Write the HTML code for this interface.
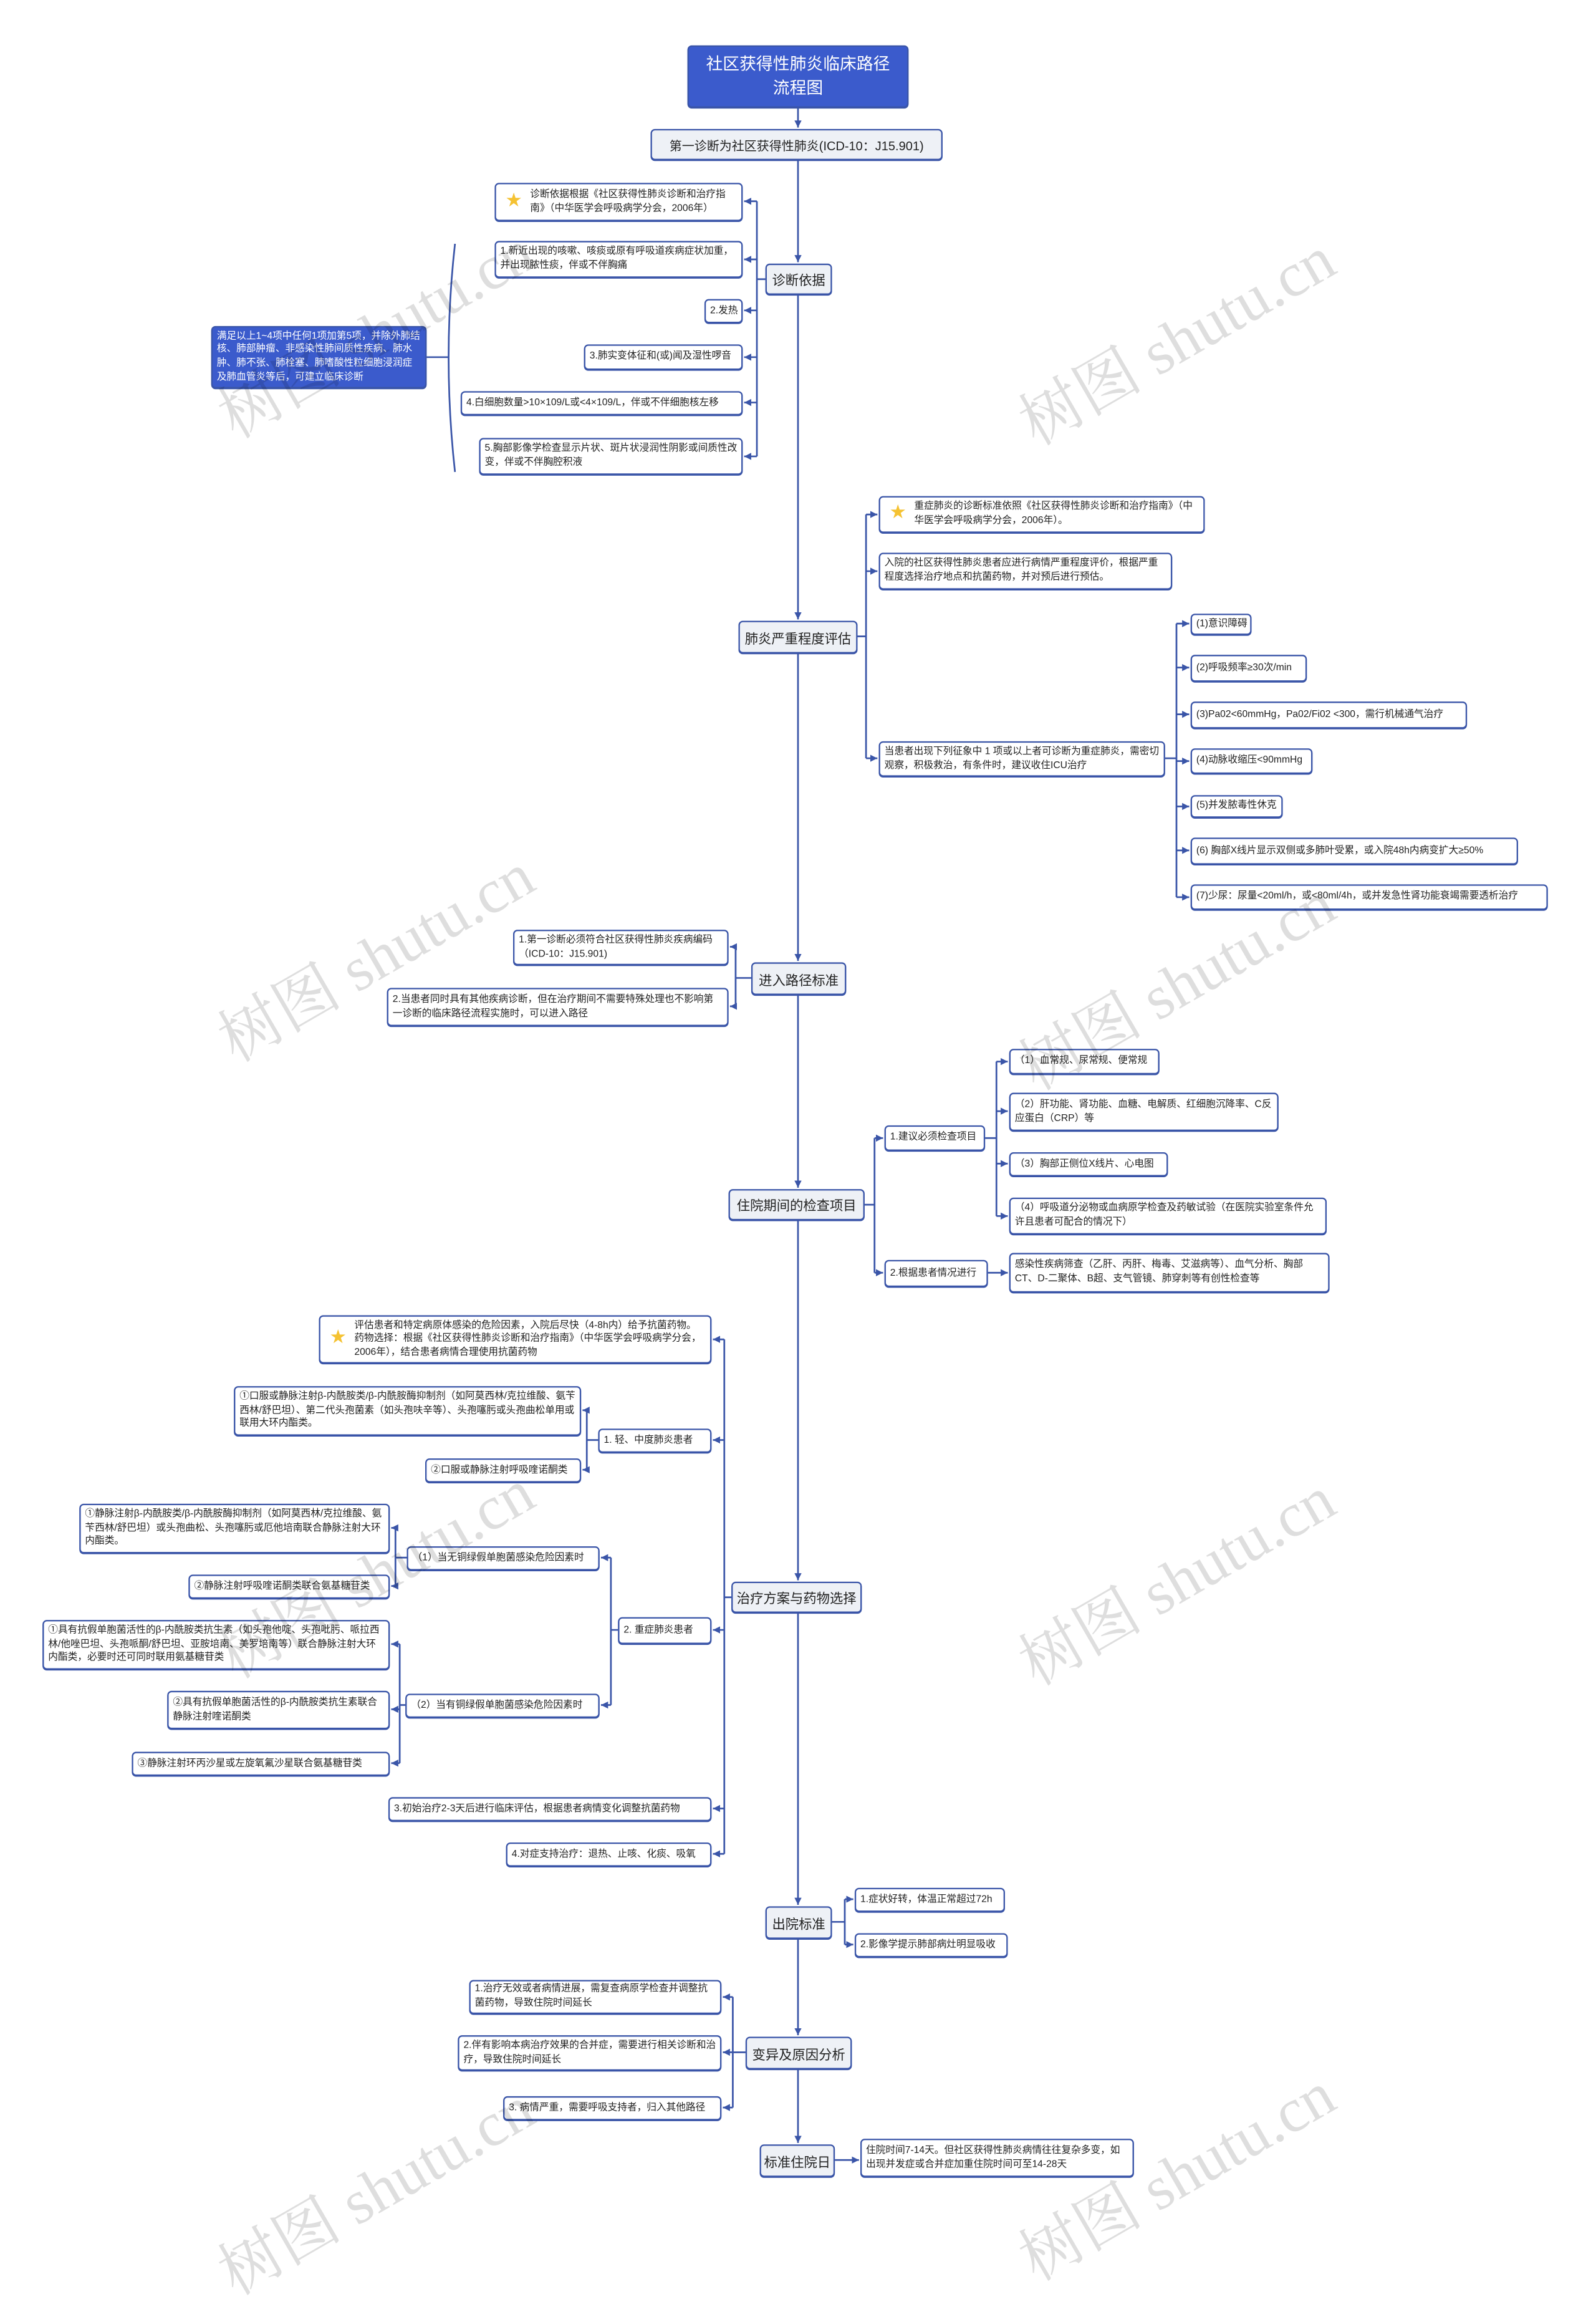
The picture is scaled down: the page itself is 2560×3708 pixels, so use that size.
<!DOCTYPE html>
<html><head><meta charset="utf-8">
<style>
html,body{margin:0;padding:0;background:#fff;}
body{width:2560px;height:3571px;overflow:hidden;position:relative;}
#s{position:absolute;left:0;top:0;width:1126px;height:1571px;transform:scale(2.27353,2.2731);transform-origin:0 0;font-family:"Liberation Sans","Noto Sans CJK SC",sans-serif;color:#222;}
.b{position:absolute;box-sizing:border-box;border:1px solid #3a55a8;border-radius:3px;background:#fff;display:flex;align-items:center;padding:0 3px;font-size:6.9px;line-height:1.4;box-shadow:0 0.6px 0 #3a55a8;overflow:hidden;}
.n{white-space:nowrap;}
.m{position:absolute;box-sizing:border-box;border:1px solid #3a55a8;border-radius:3px;background:#eef1f6;display:flex;align-items:center;justify-content:center;font-size:9.4px;white-space:nowrap;box-shadow:0 0.6px 0 #3a55a8;}
.st{color:#f5c232;font-size:11px;margin:0 6px 0 4px;flex:none;}
.wm{position:absolute;font-family:"Liberation Serif","Noto Serif CJK SC",serif;font-size:44px;color:rgba(0,0,0,0.13);transform:rotate(-30deg);white-space:nowrap;transform-origin:center;}
svg{position:absolute;left:0;top:0;}
</style></head><body>
<div id="s">
<svg width="1126" height="1571" viewBox="0 0 1126 1571">
<defs><marker id="a" markerWidth="6" markerHeight="6" refX="5" refY="3" orient="auto" markerUnits="userSpaceOnUse"><path d="M0,0.5 L5,3 L0,5.5 z" fill="#3a55a8"/></marker></defs>
<g stroke="#3a55a8" stroke-width="1.2" fill="none">
<path d="M563 76 V90" marker-end="url(#a)"/>
<path d="M563 113 V185" marker-end="url(#a)"/>
<path d="M563 208 V437" marker-end="url(#a)"/>
<path d="M563 461 V678" marker-end="url(#a)"/>
<path d="M563 702 V838" marker-end="url(#a)"/>
<path d="M563 861 V1115" marker-end="url(#a)"/>
<path d="M563 1138 V1344" marker-end="url(#a)"/>
<path d="M563 1368 V1436" marker-end="url(#a)"/>
<path d="M563 1460 V1512" marker-end="url(#a)"/>
<path d="M540 197 H534 M534 142 V322"/>
<path d="M534 142 H525" marker-end="url(#a)"/><path d="M534 183 H525" marker-end="url(#a)"/><path d="M534 219 H525" marker-end="url(#a)"/><path d="M534 252 H525" marker-end="url(#a)"/><path d="M534 284 H525" marker-end="url(#a)"/><path d="M534 322 H525" marker-end="url(#a)"/>
<path d="M301 252 H316 M321 172 Q312 252 321 333"/>
<path d="M605 449 H611 M611 363 V535"/>
<path d="M611 363 H619" marker-end="url(#a)"/><path d="M611 403 H619" marker-end="url(#a)"/><path d="M611 535 H619" marker-end="url(#a)"/>
<path d="M822 535 H830 M830 440 V633"/>
<path d="M830 440 H839" marker-end="url(#a)"/><path d="M830 471 H839" marker-end="url(#a)"/><path d="M830 504 H839" marker-end="url(#a)"/><path d="M830 537 H839" marker-end="url(#a)"/><path d="M830 569 H839" marker-end="url(#a)"/><path d="M830 600 H839" marker-end="url(#a)"/><path d="M830 633 H839" marker-end="url(#a)"/>
<path d="M530 690 H519 M519 668 V710"/>
<path d="M519 668 H515" marker-end="url(#a)"/><path d="M519 710 H515" marker-end="url(#a)"/>
<path d="M610 850 H617 M617 803 V898"/>
<path d="M617 803 H623" marker-end="url(#a)"/><path d="M617 898 H623" marker-end="url(#a)"/>
<path d="M695 803 H703 M703 749 V858"/>
<path d="M703 749 H711" marker-end="url(#a)"/><path d="M703 784 H711" marker-end="url(#a)"/><path d="M703 821 H711" marker-end="url(#a)"/><path d="M703 858 H711" marker-end="url(#a)"/>
<path d="M697 898 H711" marker-end="url(#a)"/>
<path d="M516 1127 H511 M511 945 V1308"/>
<path d="M511 945 H503" marker-end="url(#a)"/><path d="M511 1016 H503" marker-end="url(#a)"/><path d="M511 1150 H503" marker-end="url(#a)"/><path d="M511 1276 H503" marker-end="url(#a)"/><path d="M511 1308 H503" marker-end="url(#a)"/>
<path d="M422 1016 H414 M414 995 V1037"/>
<path d="M414 995 H411" marker-end="url(#a)"/><path d="M414 1037 H411" marker-end="url(#a)"/>
<path d="M436 1150 H431 M431 1099 V1203"/>
<path d="M431 1099 H424" marker-end="url(#a)"/><path d="M431 1203 H424" marker-end="url(#a)"/>
<path d="M287 1099 H279 M279 1078 V1119"/>
<path d="M279 1078 H276" marker-end="url(#a)"/><path d="M279 1119 H276" marker-end="url(#a)"/>
<path d="M286 1203 H282 M282 1160 V1244"/>
<path d="M282 1160 H276" marker-end="url(#a)"/><path d="M282 1206 H276" marker-end="url(#a)"/><path d="M282 1244 H276" marker-end="url(#a)"/>
<path d="M587 1356 H596 M596 1340 V1372"/>
<path d="M596 1340 H602" marker-end="url(#a)"/><path d="M596 1372 H602" marker-end="url(#a)"/>
<path d="M526 1448 H517 M517 1409 V1487"/>
<path d="M517 1409 H510" marker-end="url(#a)"/><path d="M517 1448 H510" marker-end="url(#a)"/><path d="M517 1487 H510" marker-end="url(#a)"/>
<path d="M589 1524 H606" marker-end="url(#a)"/>
</g></svg>

<div class="m" style="left:485px;top:32px;width:156px;height:44px;background:#3b5bcc;color:#fff;font-size:11.8px;line-height:1.45;white-space:normal;text-align:center;">社区获得性肺炎临床路径<br>流程图</div>
<div class="m" style="left:459px;top:91px;width:206px;height:22px;font-size:8.8px;">第一诊断为社区获得性肺炎(ICD-10：J15.901)</div>
<div class="m" style="left:540px;top:186px;width:47px;height:22px;">诊断依据</div>
<div class="m" style="left:521px;top:438px;width:84px;height:23px;">肺炎严重程度评估</div>
<div class="m" style="left:530px;top:679px;width:67px;height:23px;">进入路径标准</div>
<div class="m" style="left:514px;top:839px;width:96px;height:22px;">住院期间的检查项目</div>
<div class="m" style="left:516px;top:1116px;width:92px;height:22px;">治疗方案与药物选择</div>
<div class="m" style="left:540px;top:1345px;width:47px;height:23px;">出院标准</div>
<div class="m" style="left:526px;top:1437px;width:75px;height:23px;">变异及原因分析</div>
<div class="m" style="left:536px;top:1513px;width:53px;height:23px;">标准住院日</div>

<div class="b" style="left:349px;top:129px;width:175px;height:27px;"><span class="st">★</span><span>诊断依据根据《社区获得性肺炎诊断和治疗指南》（中华医学会呼吸病学分会，2006年）</span></div>
<div class="b" style="left:349px;top:170px;width:175px;height:26px;">1.新近出现的咳嗽、咳痰或原有呼吸道疾病症状加重，并出现脓性痰，伴或不伴胸痛</div>
<div class="b n" style="left:497px;top:211px;width:27px;height:17px;">2.发热</div>
<div class="b n" style="left:412px;top:243px;width:112px;height:18px;">3.肺实变体征和(或)闻及湿性啰音</div>
<div class="b n" style="left:325px;top:276px;width:199px;height:17px;">4.白细胞数量&gt;10×109/L或&lt;4×109/L，伴或不伴细胞核左移</div>
<div class="b" style="left:338px;top:309px;width:186px;height:26px;">5.胸部影像学检查显示片状、斑片状浸润性阴影或间质性改变，伴或不伴胸腔积液</div>
<div class="b" style="left:149px;top:230px;width:152px;height:44px;background:#3b5bcc;color:#fff;">满足以上1~4项中任何1项加第5项，并除外肺结核、肺部肿瘤、非感染性肺间质性疾病、肺水肿、肺不张、肺栓塞、肺嗜酸性粒细胞浸润症及肺血管炎等后，可建立临床诊断</div>

<div class="b" style="left:620px;top:350px;width:230px;height:26px;"><span class="st">★</span><span>重症肺炎的诊断标准依照《社区获得性肺炎诊断和治疗指南》（中华医学会呼吸病学分会，2006年）。</span></div>
<div class="b" style="left:620px;top:390px;width:207px;height:26px;">入院的社区获得性肺炎患者应进行病情严重程度评价，根据严重程度选择治疗地点和抗菌药物，并对预后进行预估。</div>
<div class="b" style="left:620px;top:523px;width:202px;height:25px;">当患者出现下列征象中 1 项或以上者可诊断为重症肺炎，需密切观察，积极救治，有条件时，建议收住ICU治疗</div>
<div class="b n" style="left:840px;top:433px;width:43px;height:15px;">(1)意识障碍</div>
<div class="b n" style="left:840px;top:462px;width:82px;height:19px;">(2)呼吸频率≥30次/min</div>
<div class="b n" style="left:840px;top:495px;width:195px;height:19px;">(3)Pa02&lt;60mmHg，Pa02/Fi02 &lt;300，需行机械通气治疗</div>
<div class="b n" style="left:840px;top:528px;width:86px;height:18px;">(4)动脉收缩压&lt;90mmHg</div>
<div class="b n" style="left:840px;top:561px;width:65px;height:16px;">(5)并发脓毒性休克</div>
<div class="b n" style="left:840px;top:591px;width:231px;height:19px;">(6) 胸部X线片显示双侧或多肺叶受累，或入院48h内病变扩大≥50%</div>
<div class="b n" style="left:840px;top:624px;width:252px;height:18px;">(7)少尿：尿量&lt;20ml/h，或&lt;80ml/4h，或并发急性肾功能衰竭需要透析治疗</div>

<div class="b" style="left:362px;top:656px;width:152px;height:25px;">1.第一诊断必须符合社区获得性肺炎疾病编码（ICD-10：J15.901)</div>
<div class="b" style="left:273px;top:697px;width:241px;height:27px;">2.当患者同时具有其他疾病诊断，但在治疗期间不需要特殊处理也不影响第一诊断的临床路径流程实施时，可以进入路径</div>

<div class="b n" style="left:624px;top:794px;width:71px;height:18px;">1.建议必须检查项目</div>
<div class="b n" style="left:624px;top:889px;width:73px;height:19px;">2.根据患者情况进行</div>
<div class="b n" style="left:712px;top:740px;width:106px;height:18px;">（1）血常规、尿常规、便常规</div>
<div class="b" style="left:712px;top:771px;width:190px;height:27px;">（2）肝功能、肾功能、血糖、电解质、红细胞沉降率、C反应蛋白（CRP）等</div>
<div class="b n" style="left:712px;top:813px;width:112px;height:17px;">（3）胸部正侧位X线片、心电图</div>
<div class="b" style="left:712px;top:845px;width:224px;height:26px;">（4）呼吸道分泌物或血病原学检查及药敏试验（在医院实验室条件允许且患者可配合的情况下）</div>
<div class="b" style="left:712px;top:884px;width:226px;height:28px;">感染性疾病筛查（乙肝、丙肝、梅毒、艾滋病等）、血气分析、胸部CT、D-二聚体、B超、支气管镜、肺穿刺等有创性检查等</div>

<div class="b" style="left:225px;top:928px;width:277px;height:34px;"><span class="st">★</span><span>评估患者和特定病原体感染的危险因素，入院后尽快（4-8h内）给予抗菌药物。药物选择：根据《社区获得性肺炎诊断和治疗指南》（中华医学会呼吸病学分会，2006年），结合患者病情合理使用抗菌药物</span></div>
<div class="b n" style="left:422px;top:1008px;width:80px;height:17px;">1. 轻、中度肺炎患者</div>
<div class="b" style="left:165px;top:978px;width:245px;height:35px;">①口服或静脉注射β-内酰胺类/β-内酰胺酶抑制剂（如阿莫西林/克拉维酸、氨苄西林/舒巴坦）、第二代头孢菌素（如头孢呋辛等）、头孢噻肟或头孢曲松单用或联用大环内酯类。</div>
<div class="b n" style="left:300px;top:1029px;width:110px;height:17px;">②口服或静脉注射呼吸喹诺酮类</div>
<div class="b n" style="left:436px;top:1141px;width:66px;height:19px;">2. 重症肺炎患者</div>
<div class="b n" style="left:287px;top:1091px;width:136px;height:17px;">（1）当无铜绿假单胞菌感染危险因素时</div>
<div class="b" style="left:56px;top:1061px;width:219px;height:35px;">①静脉注射β-内酰胺类/β-内酰胺酶抑制剂（如阿莫西林/克拉维酸、氨苄西林/舒巴坦）或头孢曲松、头孢噻肟或厄他培南联合静脉注射大环内酯类。</div>
<div class="b n" style="left:133px;top:1111px;width:142px;height:17px;">②静脉注射呼吸喹诺酮类联合氨基糖苷类</div>
<div class="b n" style="left:286px;top:1195px;width:137px;height:17px;">（2）当有铜绿假单胞菌感染危险因素时</div>
<div class="b" style="left:30px;top:1143px;width:245px;height:35px;">①具有抗假单胞菌活性的β-内酰胺类抗生素（如头孢他啶、头孢吡肟、哌拉西林/他唑巴坦、头孢哌酮/舒巴坦、亚胺培南、美罗培南等）联合静脉注射大环内酯类，必要时还可同时联用氨基糖苷类</div>
<div class="b" style="left:118px;top:1193px;width:157px;height:27px;">②具有抗假单胞菌活性的β-内酰胺类抗生素联合静脉注射喹诺酮类</div>
<div class="b n" style="left:93px;top:1236px;width:182px;height:17px;">③静脉注射环丙沙星或左旋氧氟沙星联合氨基糖苷类</div>
<div class="b n" style="left:274px;top:1268px;width:228px;height:17px;">3.初始治疗2-3天后进行临床评估，根据患者病情变化调整抗菌药物</div>
<div class="b n" style="left:357px;top:1300px;width:145px;height:17px;">4.对症支持治疗：退热、止咳、化痰、吸氧</div>

<div class="b n" style="left:603px;top:1332px;width:106px;height:17px;">1.症状好转，体温正常超过72h</div>
<div class="b n" style="left:603px;top:1364px;width:108px;height:17px;">2.影像学提示肺部病灶明显吸收</div>

<div class="b" style="left:331px;top:1397px;width:178px;height:24px;">1.治疗无效或者病情进展，需复查病原学检查并调整抗菌药物，导致住院时间延长</div>
<div class="b" style="left:323px;top:1436px;width:186px;height:25px;">2.伴有影响本病治疗效果的合并症，需要进行相关诊断和治疗，导致住院时间延长</div>
<div class="b n" style="left:355px;top:1479px;width:154px;height:17px;">3. 病情严重，需要呼吸支持者，归入其他路径</div>
<div class="b" style="left:607px;top:1509px;width:193px;height:27px;">住院时间7-14天。但社区获得性肺炎病情往往复杂多变，如出现并发症或合并症加重住院时间可至14-28天</div>

<div class="wm" style="left:140px;top:200px;">树图 shutu.cn</div>
<div class="wm" style="left:705px;top:205px;">树图 shutu.cn</div>
<div class="wm" style="left:140px;top:640px;">树图 shutu.cn</div>
<div class="wm" style="left:705px;top:660px;">树图 shutu.cn</div>
<div class="wm" style="left:140px;top:1075px;">树图 shutu.cn</div>
<div class="wm" style="left:705px;top:1080px;">树图 shutu.cn</div>
<div class="wm" style="left:140px;top:1510px;">树图 shutu.cn</div>
<div class="wm" style="left:705px;top:1500px;">树图 shutu.cn</div>
</div>
</body></html>
